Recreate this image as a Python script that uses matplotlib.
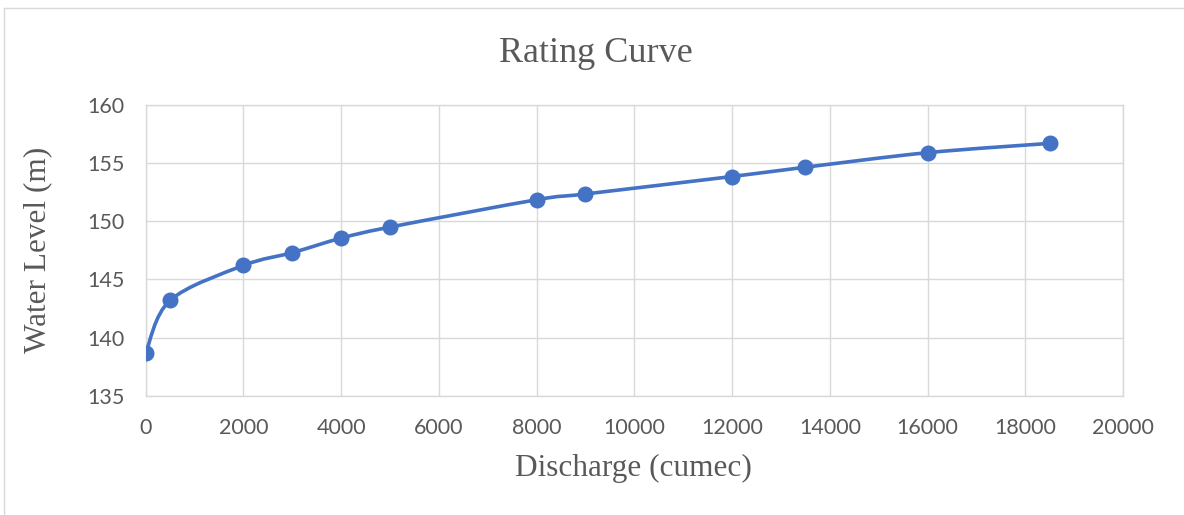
import numpy as np
import matplotlib
matplotlib.use("Agg")
import matplotlib.pyplot as plt
from matplotlib.path import Path
from matplotlib.patches import PathPatch
from matplotlib.lines import Line2D

# Stage-discharge observations
discharge = [0, 500, 2000, 3000, 4000, 5000, 8000, 9000, 12000, 13500, 16000, 18500]
water_level = [138.65, 143.2, 146.2, 147.3, 148.55, 149.5, 151.85, 152.35,
               153.85, 154.65, 155.9, 156.7]
x_ticks = [0, 2000, 4000, 6000, 8000, 10000, 12000, 14000, 16000, 18000, 20000]
y_ticks = [135, 140, 145, 150, 155, 160]

LINE_BLUE = "#4472C4"
TEXT_GREY = "#595959"
GRID_GREY = "#d9d9d9"

W, H = 1184, 515
fig = plt.figure(figsize=(W / 100, H / 100), dpi=100)
fig.patch.set_facecolor("white")

left, right, top, bottom = 145.7, 1123.0, 105.0, 395.7
ax = fig.add_axes([left / W, 1 - bottom / H, (right - left) / W, (bottom - top) / H])
ax.set_xlim(0, 20000)
ax.set_ylim(135, 160)
ax.set_xticks(x_ticks)
ax.set_yticks(y_ticks)
ax.set_xticklabels([str(v) for v in x_ticks])
ax.set_yticklabels([str(v) for v in y_ticks])
ax.grid(True, color=GRID_GREY, linewidth=1.0)
ax.set_axisbelow(True)
for s in ax.spines.values():
    s.set_color(GRID_GREY)
    s.set_linewidth(1.0)
ax.tick_params(length=0, labelsize=15.5, labelcolor=TEXT_GREY)
ax.tick_params(axis="x", pad=16)
ax.tick_params(axis="y", pad=15)
for lab in ax.get_xticklabels() + ax.get_yticklabels():
    lab.set_fontfamily("Lato")

# Smoothed connecting line (cardinal / Catmull-Rom Bezier through the points)
xs = np.asarray(discharge, float)
ys = np.asarray(water_level, float)
n = len(xs)
verts = [(xs[0], ys[0])]
codes = [Path.MOVETO]
for i in range(n - 1):
    p0 = np.array([xs[max(i - 1, 0)], ys[max(i - 1, 0)]])
    p1 = np.array([xs[i], ys[i]])
    p2 = np.array([xs[i + 1], ys[i + 1]])
    p3 = np.array([xs[min(i + 2, n - 1)], ys[min(i + 2, n - 1)]])
    c1 = p1 + (p2 - p0) / 6.0
    c2 = p2 - (p3 - p1) / 6.0
    verts += [tuple(c1), tuple(c2), tuple(p2)]
    codes += [Path.CURVE4, Path.CURVE4, Path.CURVE4]
ax.add_patch(PathPatch(Path(verts, codes), facecolor="none", edgecolor=LINE_BLUE,
                       linewidth=2.6, capstyle="round", joinstyle="round", zorder=3))
ax.plot(discharge, water_level, linestyle="none", marker="o", markersize=10.5,
        markerfacecolor=LINE_BLUE, markeredgecolor=LINE_BLUE, zorder=4)

# Titles
fig.text(596 / W, 1 - 54 / H, "Rating Curve", ha="center", va="center",
         fontsize=26, color=TEXT_GREY, family="Liberation Serif")
fig.text(633 / W, 1 - 468 / H, "Discharge (cumec)", ha="center", va="center",
         fontsize=22.5, color=TEXT_GREY, family="Liberation Serif")
fig.text(38 / W, 1 - 250 / H, "Water Level (m)", ha="center", va="center",
         rotation=90, fontsize=22.5, color=TEXT_GREY, family="Liberation Serif")

# Chart area frame
fig.add_artist(Line2D([4 / W, 4 / W], [0, 1 - 8 / H], transform=fig.transFigure,
                      color=GRID_GREY, linewidth=1.0))
fig.add_artist(Line2D([4 / W, 1], [1 - 8 / H, 1 - 8 / H], transform=fig.transFigure,
                      color=GRID_GREY, linewidth=1.0))

fig.savefig("out.png", dpi=100, facecolor="white")
